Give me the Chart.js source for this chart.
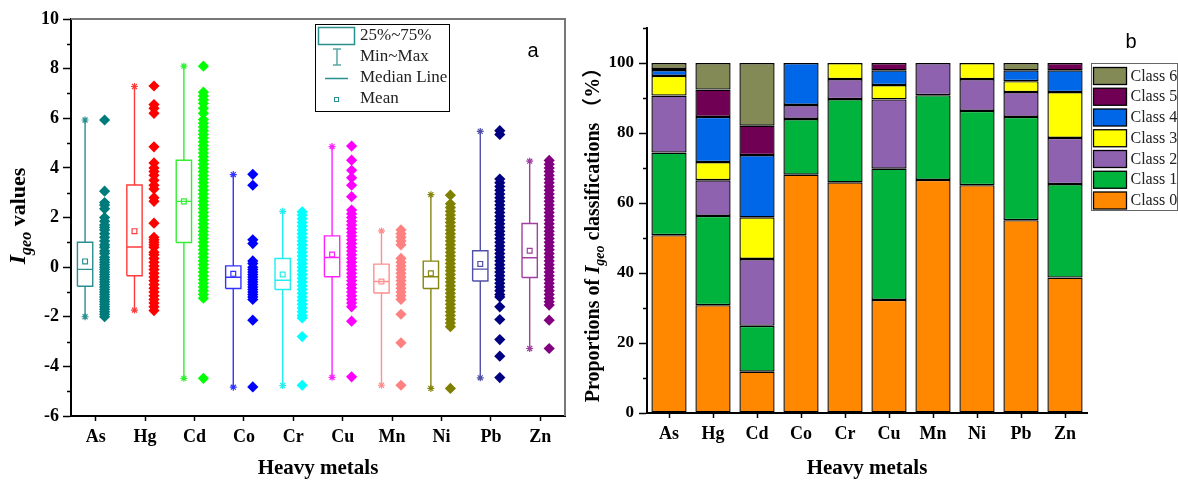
<!DOCTYPE html>
<html><head><meta charset="utf-8">
<script src="https://cdn.jsdelivr.net/npm/chart.js@4.4.1/dist/chart.umd.min.js"></script>
<style>
html,body{margin:0;padding:0;background:#fff;}
#wrap{position:relative;width:1178px;height:481px;overflow:hidden;background:#fff;}
#c1{position:absolute;left:0;top:0;}
#c2{position:absolute;left:580px;top:0;}
</style></head><body>
<div id="wrap">
<canvas id="c1" width="580" height="481"></canvas>
<canvas id="c2" width="598" height="481"></canvas>
</div>
<script>
// ---------- DATA ----------
const metals = ['As','Hg','Cd','Co','Cr','Cu','Mn','Ni','Pb','Zn'];

// box statistics (Igeo)
const boxMin    = [-2.00,-1.73,-4.48,-4.84,-4.77,-4.44,-4.76,-4.89,-4.46,-3.28];
const boxQ1     = [-0.77,-0.35, 0.99,-0.86,-0.90,-0.39,-1.04,-0.86,-0.56,-0.42];
const boxMedian = [-0.09, 0.81, 2.65,-0.41,-0.53, 0.39,-0.58,-0.39,-0.08, 0.38];
const boxQ3     = [ 1.00, 3.31, 4.31, 0.05, 0.35, 1.26, 0.12, 0.24, 0.66, 1.76];
const boxMax    = [ 5.93, 7.28, 8.10, 3.73, 2.25, 4.86, 1.46, 2.92, 5.47, 4.27];
const boxMean   = [ 0.23, 1.45, 2.65,-0.27,-0.30, 0.51,-0.58,-0.25, 0.13, 0.66];

// individual Igeo values
const igeoAs = [5.93,3.06,2.6,2.5,2.35,2.0,1.85,1.7,1.6,1.5,1.35,1.2,1.05,0.9,0.8,0.65,0.55,0.4,0.3,0.2,0.1,0.0,-0.1,-0.2,-0.3,-0.4,-0.5,-0.6,-0.7,-0.8,-0.9,-1.0,-1.1,-1.2,-1.3,-1.4,-1.5,-1.6,-1.7,-1.8,-1.9,-2.0];
const igeoHg = [7.3,6.55,6.4,6.2,4.85,4.2,4.0,3.85,3.7,3.5,3.3,3.15,2.8,2.65,1.77,1.2,1.1,1.0,0.9,0.8,0.6,0.5,0.35,0.2,0.05,-0.1,-0.25,-0.4,-0.55,-0.7,-0.85,-1.0,-1.15,-1.3,-1.45,-1.6,-1.75];
const igeoCd = [8.1,7.05,6.9,6.75,6.6,6.4,6.2,5.95,5.8,5.65,5.5,5.35,5.2,5.05,4.9,4.75,4.6,4.45,4.3,4.15,4.0,3.85,3.7,3.55,3.4,3.25,3.1,2.95,2.8,2.65,2.5,2.35,2.2,2.05,1.9,1.75,1.6,1.45,1.3,1.15,1.0,0.85,0.7,0.55,0.4,0.25,0.1,-0.05,-0.2,-0.35,-0.5,-0.65,-0.8,-0.95,-1.1,-1.25,-4.48];
const igeoCo = [3.74,3.3,1.1,0.95,0.25,0.15,0.0,-0.1,-0.2,-0.3,-0.4,-0.5,-0.6,-0.7,-0.8,-0.9,-1.0,-1.1,-1.2,-1.3,-2.14,-4.83];
const igeoCr = [2.23,2.1,1.95,1.8,1.65,1.5,1.35,1.2,1.05,0.9,0.75,0.6,0.45,0.3,0.15,0.0,-0.15,-0.3,-0.45,-0.6,-0.75,-0.9,-1.05,-1.2,-1.35,-1.5,-1.65,-1.8,-1.95,-2.05,-2.8,-4.76];
const igeoCu = [4.88,4.31,3.9,3.6,3.3,2.84,2.3,2.15,2.0,1.85,1.7,1.55,1.4,1.25,1.1,0.95,0.8,0.65,0.5,0.35,0.2,0.05,-0.1,-0.25,-0.4,-0.55,-0.7,-0.85,-1.0,-1.15,-1.3,-1.45,-1.6,-2.18,-4.42];
const igeoMn = [1.5,1.35,1.2,1.05,0.9,0.35,0.2,0.05,-0.1,-0.25,-0.4,-0.55,-0.7,-0.85,-1.0,-1.15,-1.3,-1.9,-3.05,-4.76];
const igeoNi = [2.9,2.55,2.4,2.25,2.1,1.95,1.8,1.65,1.5,1.35,1.2,1.05,0.9,0.75,0.6,0.45,0.3,0.15,0.0,-0.15,-0.3,-0.45,-0.6,-0.75,-0.9,-1.05,-1.2,-1.35,-1.5,-1.65,-1.8,-1.95,-2.1,-2.25,-2.4,-4.89];
const igeoPb = [5.5,5.35,3.55,3.4,3.25,3.1,2.95,2.8,2.65,2.5,2.35,2.2,2.05,1.9,1.75,1.6,1.45,1.3,1.15,1.0,0.85,0.7,0.55,0.4,0.25,0.1,-0.05,-0.2,-0.35,-0.5,-0.65,-0.8,-0.95,-1.1,-1.2,-1.6,-2.11,-2.92,-3.59,-4.45];
const igeoZn = [4.3,4.15,4.0,3.85,3.7,3.55,3.4,3.25,3.1,2.95,2.8,2.65,2.5,2.35,2.2,2.05,1.9,1.75,1.6,1.45,1.3,1.15,1.0,0.85,0.7,0.55,0.4,0.25,0.1,-0.05,-0.2,-0.35,-0.5,-0.65,-0.8,-0.95,-1.1,-1.25,-1.4,-1.53,-2.14,-3.28];
const igeoValues = [igeoAs,igeoHg,igeoCd,igeoCo,igeoCr,igeoCu,igeoMn,igeoNi,igeoPb,igeoZn];

// class proportions (%)
const classNames = ['Class 0','Class 1','Class 2','Class 3','Class 4','Class 5','Class 6'];
const class0 = [50.8,30.8,11.8,68.1,65.9,32.3,66.6,65.1,55.1,38.7];
const class1 = [23.6,25.5,13.1,15.9,23.8,37.5,24.2,21.2,29.5,26.7];
const class2 = [16.3,10.2,19.1, 4.0, 5.7,19.8, 9.2, 9.1, 7.1,13.2];
const class3 = [ 5.6, 5.2,11.9, 0.0, 4.6, 4.1, 0.0, 4.6, 3.1,13.1];
const class4 = [ 1.7,12.9,17.8,12.0, 0.0, 4.2, 0.0, 0.0, 3.1, 6.2];
const class5 = [ 0.3, 7.8, 8.4, 0.0, 0.0, 2.1, 0.0, 0.0, 0.0, 2.1];
const class6 = [ 1.7, 7.6,17.9, 0.0, 0.0, 0.0, 0.0, 0.0, 2.1, 0.0];
const classValues = [class0,class1,class2,class3,class4,class5,class6];

// y tick labels
const igeoTicks = [-6,-4,-2,0,2,4,6,8,10];
const igeoMinorTicks = [-5,-3,-1,1,3,5,7,9];
const propTicks = [0,20,40,60,80,100];
const propMinorTicks = [10,30,50,70,90,110];

// ---------- STYLE ----------
const pointColors = ['#007b7b','#ff0000','#00ff00','#0000ff','#00ffff','#ff00ff','#ff8080','#808000','#000080','#800080'];
const boxColors   = ['#2a8f8f','#ff3b3b','#33ee33','#3333ff','#22eeee','#ff22ff','#ff8f8f','#858510','#5050a8','#a040a0'];
const classColors = ['#ff8800','#00b33c','#8e62ae','#ffff00','#0068e8','#700054','#838a55'];
const SERIF = '"Liberation Serif", "Times New Roman", serif';
const BOX_OFF = -0.215, BOX_HALF = 0.155, PT_OFF = 0.18;

Chart.defaults.font.family = SERIF;
Chart.defaults.color = '#000';
Chart.defaults.animation = false;

// ---------- helpers ----------
function drawRotatedRich(ctx, x, y, segs) {
  ctx.save();
  ctx.translate(x, y);
  ctx.rotate(-Math.PI / 2);
  let total = 0;
  segs.forEach(s => { ctx.font = s.font; s.w = ctx.measureText(s.t).width; total += s.w; });
  let cx = -total / 2;
  ctx.textBaseline = 'alphabetic';
  ctx.fillStyle = '#000';
  segs.forEach(s => { ctx.font = s.font; ctx.fillText(s.t, cx, s.dy || 0); cx += s.w; });
  ctx.restore();
}

const minorTickPlugin = {
  id: 'minorTicks',
  afterDraw(chart, args, opts) {
    const ctx = chart.ctx, ys = chart.scales.y, left = chart.chartArea.left;
    ctx.save();
    ctx.strokeStyle = '#000'; ctx.lineWidth = 1.5;
    opts.values.forEach(v => {
      const py = Math.round(ys.getPixelForValue(v)) + 0.5;
      ctx.beginPath(); ctx.moveTo(left - opts.len, py); ctx.lineTo(left, py); ctx.stroke();
    });
    ctx.restore();
  }
};

const titlePlugin = {
  id: 'yTitleRich',
  afterDraw(chart, args, opts) {
    drawRotatedRich(chart.ctx, opts.x, opts.cy, opts.segs);
    if (opts.tag) {
      const ctx = chart.ctx;
      ctx.save();
      ctx.font = '20px "Liberation Sans", Arial, sans-serif';
      ctx.fillStyle = '#000';
      ctx.textAlign = 'center'; ctx.textBaseline = 'alphabetic';
      ctx.fillText(opts.tag.t, opts.tag.x, opts.tag.y);
      ctx.restore();
    }
  }
};

const framePlugin = {
  id: 'frameA',
  beforeDatasetsDraw(chart) {
    const ctx = chart.ctx, a = chart.chartArea;
    ctx.save();
    ctx.strokeStyle = '#777'; ctx.lineWidth = 2;
    ctx.beginPath();
    ctx.moveTo(a.left, a.top); ctx.lineTo(a.right, a.top); ctx.lineTo(a.right, a.bottom);
    ctx.stroke();
    ctx.restore();
  }
};

const legendAPlugin = {
  id: 'legendA',
  afterDraw(chart) {
    const ctx = chart.ctx;
    ctx.save();
    ctx.strokeStyle = '#000'; ctx.lineWidth = 1;
    ctx.strokeRect(315.5, 24.5, 134, 87);
    ctx.strokeStyle = '#2a8f8f'; ctx.lineWidth = 1.5;
    ctx.strokeRect(318.5, 27.5, 36, 17);
    ctx.strokeStyle = '#5aa8a8';
    ctx.beginPath();
    ctx.moveTo(337, 49); ctx.lineTo(337, 65);
    ctx.moveTo(333, 49); ctx.lineTo(341, 49);
    ctx.moveTo(333, 65); ctx.lineTo(341, 65);
    ctx.stroke();
    ctx.strokeStyle = '#2a8f8f';
    ctx.beginPath(); ctx.moveTo(325, 78.5); ctx.lineTo(348, 78.5); ctx.stroke();
    ctx.lineWidth = 1; ctx.strokeRect(334.5, 97.5, 4, 4);
    ctx.fillStyle = '#222'; ctx.font = '17px ' + SERIF; ctx.textBaseline = 'middle';
    const items = ['25%~75%', 'Min~Max', 'Median Line', 'Mean'];
    const ys = [36, 57, 78, 99];
    items.forEach((t, k) => ctx.fillText(t, 360, ys[k]));
    ctx.restore();
  }
};

const legendBPlugin = {
  id: 'legendB',
  afterDraw(chart) {
    const ctx = chart.ctx;
    const ds = chart.data.datasets.slice().reverse();
    ctx.save();
    ctx.strokeStyle = '#666'; ctx.lineWidth = 1;
    ctx.strokeRect(511.5, 63.5, 86, 147);
    ctx.font = '16px ' + SERIF; ctx.textBaseline = 'middle';
    ds.forEach((d, k) => {
      const y = 67.5 + k * 20.75;
      ctx.fillStyle = d.backgroundColor;
      ctx.fillRect(513.5, y, 33, 17);
      ctx.strokeStyle = '#000'; ctx.lineWidth = 1.3;
      ctx.strokeRect(513.5, y, 33, 17);
      ctx.fillStyle = '#222';
      ctx.fillText(d.label, 550.5, y + 9);
    });
    ctx.restore();
  }
};

// ---------- LEFT CHART: box plots ----------
const leftDatasets = [];
metals.forEach((m, i) => {
  const xb = i + BOX_OFF, x0 = xb - BOX_HALF, x1 = xb + BOX_HALF;
  leftDatasets.push({
    label: m + ' box', showLine: true, borderColor: boxColors[i], borderWidth: 1.4,
    pointRadius: 0, fill: false, spanGaps: false,
    data: [
      {x: x0, y: boxQ1[i]}, {x: x1, y: boxQ1[i]}, {x: x1, y: boxQ3[i]}, {x: x0, y: boxQ3[i]}, {x: x0, y: boxQ1[i]},
      {x: xb, y: null},
      {x: xb, y: boxMax[i]}, {x: xb, y: boxQ3[i]},
      {x: xb, y: null},
      {x: xb, y: boxQ1[i]}, {x: xb, y: boxMin[i]},
      {x: xb, y: null},
      {x: x0, y: boxMedian[i]}, {x: x1, y: boxMedian[i]}
    ]
  });
  leftDatasets.push({
    label: m + ' min/max', pointStyle: 'star', pointRadius: 3.5, borderWidth: 1.2,
    borderColor: boxColors[i], backgroundColor: boxColors[i],
    data: [{x: xb, y: boxMax[i]}, {x: xb, y: boxMin[i]}]
  });
  leftDatasets.push({
    label: m + ' mean', pointStyle: 'rect', pointRadius: 3.4, borderWidth: 1.2,
    borderColor: boxColors[i], backgroundColor: '#fff',
    data: [{x: xb, y: boxMean[i]}]
  });
  leftDatasets.push({
    label: m, pointStyle: 'rectRot', pointRadius: 5.6, borderWidth: 0,
    backgroundColor: pointColors[i], borderColor: pointColors[i],
    data: igeoValues[i].map(v => ({x: i + PT_OFF, y: v}))
  });
});

new Chart(document.getElementById('c1'), {
  type: 'scatter',
  data: { datasets: leftDatasets },
  options: {
    responsive: false,
    layout: { padding: { top: 19, right: 15, left: 0, bottom: 0 } },
    plugins: {
      legend: { display: false }, tooltip: { enabled: false },
      minorTicks: { values: igeoMinorTicks, len: 4 },
      yTitleRich: {
        x: 25, cy: 216,
        segs: [
          { t: 'I', font: 'italic bold 24px ' + SERIF },
          { t: 'geo', font: 'italic bold 16px ' + SERIF, dy: 6 },
          { t: ' values', font: 'bold 22px ' + SERIF }
        ],
        tag: { t: 'a', x: 533, y: 57 }
      }
    },
    scales: {
      x: {
        type: 'linear', min: -0.5, max: 9.5,
        afterBuildTicks: s => { s.ticks = metals.map((_, i) => ({ value: i })); },
        afterFit: s => { s.height = 65; },
        ticks: { callback: v => metals[v], font: { size: 18, weight: 'bold' }, color: '#000', padding: 6, maxRotation: 0, autoSkip: false },
        grid: { drawOnChartArea: false, drawTicks: true, tickLength: 5, tickColor: '#000', tickWidth: 1.5 },
        border: { display: true, color: '#000', width: 2 },
        title: { display: true, text: 'Heavy metals', font: { size: 21, weight: 'bold' }, color: '#000', padding: { top: 0, bottom: 0 } }
      },
      y: {
        min: -6, max: 10,
        afterBuildTicks: s => { s.ticks = igeoTicks.map(v => ({ value: v })); },
        afterFit: s => { s.width = 71; },
        ticks: { font: { size: 18, weight: 'bold' }, color: '#000', padding: 4 },
        grid: { drawOnChartArea: false, drawTicks: true, tickLength: 8, tickColor: '#000', tickWidth: 1.5 },
        border: { display: true, color: '#000', width: 2 }
      }
    }
  },
  plugins: [framePlugin, minorTickPlugin, titlePlugin, legendAPlugin]
});

// ---------- RIGHT CHART: stacked proportions ----------
new Chart(document.getElementById('c2'), {
  type: 'bar',
  data: {
    labels: metals,
    datasets: classNames.map((n, k) => ({
      label: n,
      data: classValues[k].map(v => v === 0 ? null : v),
      backgroundColor: classColors[k],
      borderColor: '#000', borderWidth: 1.4, borderSkipped: false,
      barPercentage: 0.8, categoryPercentage: 1.0
    }))
  },
  options: {
    responsive: false,
    layout: { padding: { top: 28, right: 91, left: 0, bottom: 0 } },
    plugins: {
      legend: { display: false }, tooltip: { enabled: false },
      minorTicks: { values: propMinorTicks, len: 4 },
      yTitleRich: {
        x: 19, cy: 230,
        segs: [
          { t: 'Proportions of ', font: 'bold 20px ' + SERIF },
          { t: 'I', font: 'italic bold 21px ' + SERIF },
          { t: 'geo', font: 'italic bold 14px ' + SERIF, dy: 5 },
          { t: ' classifications （%）', font: 'bold 20px ' + SERIF + ', "Noto Sans CJK SC"' }
        ],
        tag: { t: 'b', x: 551, y: 48 }
      }
    },
    scales: {
      x: {
        stacked: true,
        afterFit: s => { s.height = 68; },
        ticks: { font: { size: 18, weight: 'bold' }, color: '#000', padding: 6, maxRotation: 0, autoSkip: false },
        grid: { drawOnChartArea: false, drawTicks: true, tickLength: 5, tickColor: '#000', tickWidth: 1.5, offset: false },
        border: { display: true, color: '#000', width: 2 },
        title: { display: true, text: 'Heavy metals', font: { size: 21, weight: 'bold' }, color: '#000', padding: { top: 0, bottom: 0 } }
      },
      y: {
        stacked: true, min: 0, max: 110,
        afterBuildTicks: s => { s.ticks = propTicks.map(v => ({ value: v })); },
        afterFit: s => { s.width = 67; },
        ticks: { font: { size: 17, weight: 'bold' }, color: '#000', padding: 5 },
        grid: { drawOnChartArea: false, drawTicks: true, tickLength: 8, tickColor: '#000', tickWidth: 1.5 },
        border: { display: true, color: '#000', width: 2 }
      }
    }
  },
  plugins: [minorTickPlugin, titlePlugin, legendBPlugin]
});
</script>
</body></html>
